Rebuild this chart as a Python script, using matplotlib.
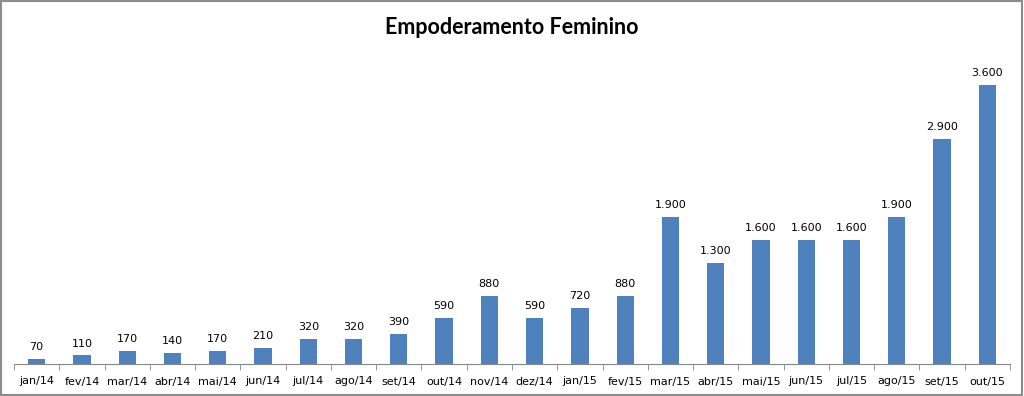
import matplotlib
matplotlib.use("Agg")
import matplotlib.pyplot as plt
from matplotlib.patches import Rectangle

# dados do gráfico
meses = ["jan/14", "fev/14", "mar/14", "abr/14", "mai/14", "jun/14", "jul/14",
         "ago/14", "set/14", "out/14", "nov/14", "dez/14", "jan/15", "fev/15",
         "mar/15", "abr/15", "mai/15", "jun/15", "jul/15", "ago/15", "set/15", "out/15"]
valores = [70, 110, 170, 140, 170, 210, 320, 320, 390, 590, 880, 590, 720, 880,
           1900, 1300, 1600, 1600, 1600, 1900, 2900, 3600]

cor_barra = "#4F81BD"
cinza = "#868686"

fig = plt.figure(figsize=(10.24, 3.96), dpi=100)
ax = fig.add_axes([14/1024, 32/396, 996/1024, 310/396])

pos = list(range(len(meses)))
ax.bar(pos, valores, width=0.38, color=cor_barra)

# rótulos com separador de milhar em português
for x, v in zip(pos, valores):
    txt = f"{v:,}".replace(",", ".")
    ax.annotate(txt, (x, v), xytext=(0, 5), textcoords="offset points",
                ha="center", va="bottom", fontsize=8, color="#000000")

ax.set_xlim(-0.5, len(meses) - 0.5)
ax.set_ylim(0, 4000)
ax.set_xticks(pos)
ax.set_xticklabels(meses, fontsize=8)
ax.set_xticks([p - 0.5 for p in pos] + [len(meses) - 0.5], minor=True)
ax.tick_params(axis="x", which="major", length=0, pad=9)
ax.tick_params(axis="x", which="minor", length=4, color=cinza, direction="out")
ax.set_yticks([])
for lado in ["left", "right", "top"]:
    ax.spines[lado].set_visible(False)
ax.spines["bottom"].set_color(cinza)

fig.text(0.5, 1 - 27/396, "Empoderamento Feminino", ha="center", va="center",
         fontsize=15.5, fontweight="bold", family="Lato")

# moldura cinza
fig.patches.append(Rectangle((0.001, 0.002), 0.997, 0.996, transform=fig.transFigure,
                             fill=False, edgecolor="#8c8c8c", linewidth=1.5))

plt.savefig("out.png", dpi=100)
